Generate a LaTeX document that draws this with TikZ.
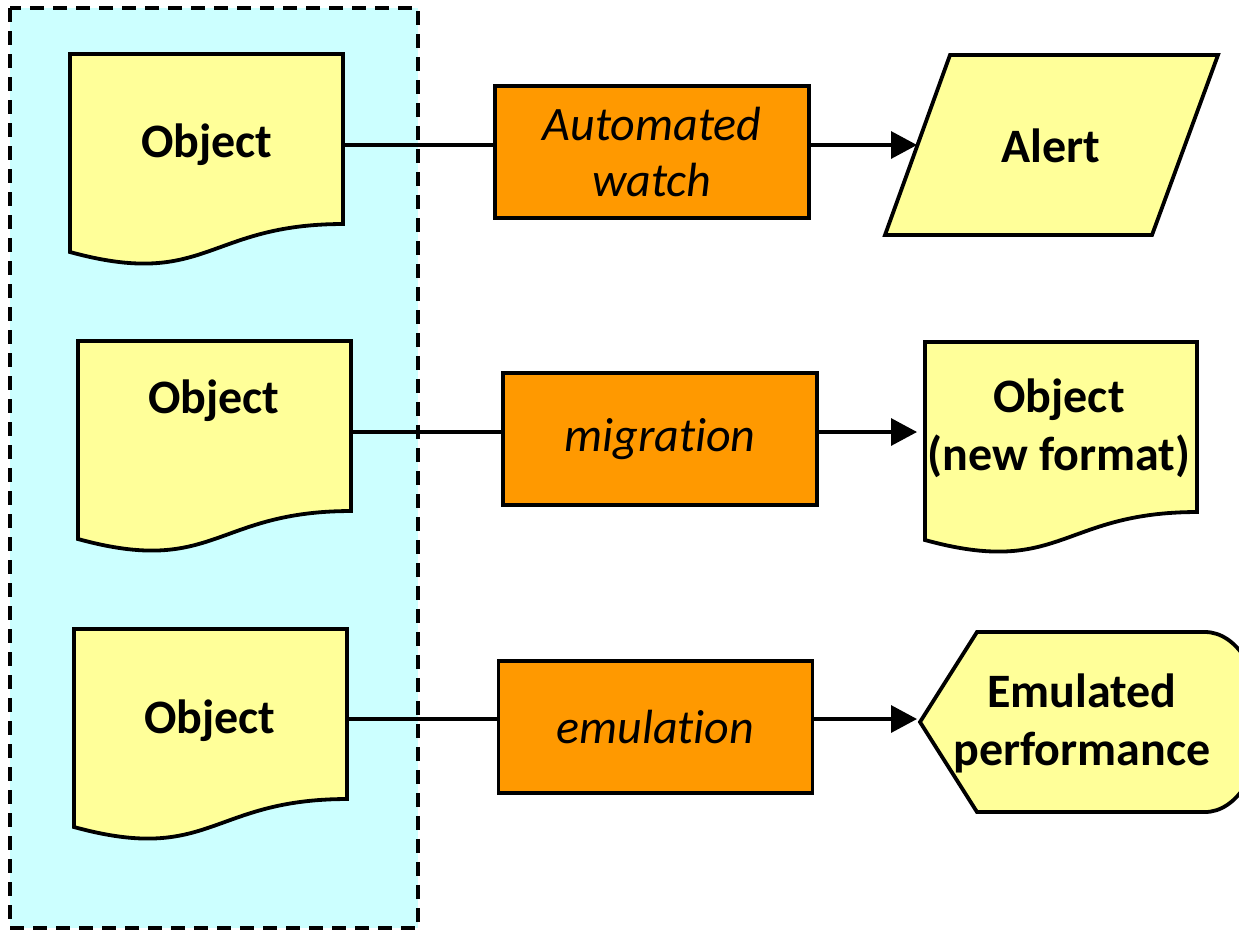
\documentclass[tikz,border=0pt]{standalone}
\usepackage{fontspec}
\setmainfont{Carlito}[Ligatures=NoCommon]
\usetikzlibrary{arrows.meta,calc}

\definecolor{docyellow}{HTML}{FFFF99}
\definecolor{poolcyan}{HTML}{CCFFFF}
\definecolor{actorange}{HTML}{FF9900}

\tikzset{
  outline/.style={draw=black, line width=3.8pt, line join=miter},
  docfill/.style={outline, fill=docyellow},
  actbox/.style={outline, fill=actorange, minimum width=314pt, minimum height=132pt,
    inner sep=0pt, font=\fontsize{48}{57}\selectfont\itshape, align=center},
  tag/.style={font=\fontsize{48}{58}\selectfont\bfseries, align=center, inner sep=0pt},
  link/.style={line width=3.3pt},
  flow/.style={link, -{Triangle[length=26pt,width=27pt]}},
  pool/.style={draw=black, line width=3.5pt, dash pattern=on 14pt off 9pt},
}

% document symbol: top-left corner (#1,#2), width #3, height #4
\newcommand{\docsymbol}[4]{%
  \path[docfill] (#1,-#2) -- (#1+#3,-#2) -- (#1+#3,-#2-0.802*#4)
    .. controls (#1+0.5*#3,-#2-0.802*#4) and (#1+0.5*#3,-#2-1.1106*#4)
    .. (#1,-#2-0.934*#4) -- cycle;}

\begin{document}
\begin{tikzpicture}[x=1pt,y=1pt]
  \useasboundingbox (0,0) rectangle (1239,-930);
  \clip (0,0) rectangle (1239,-930);

  % repository area
  \fill[poolcyan] (10,-8) rectangle (418,-928);

  % connection points
  \coordinate (src1) at (343,-145);
  \coordinate (src2) at (351,-432);
  \coordinate (src3) at (347,-719);
  \coordinate (dst1) at (917,-145);
  \coordinate (dst2) at (917,-432);
  \coordinate (dst3) at (917,-719);

  % processes
  \node[actbox] (act1) at (652,-152) {Automated\\[-1pt]watch};
  \node[actbox] (act2) at (660,-439) {migration};
  \node[actbox] (act3) at (655.5,-727) {emulation};

  % connectors
  \draw[link] (src1) -- (src1 -| act1.west);
  \draw[link] (src2) -- (src2 -| act2.west);
  \draw[link] (src3) -- (src3 -| act3.west);
  \draw[flow] (act1.east |- dst1) -- (dst1);
  \draw[flow] (act2.east |- dst2) -- (dst2);
  \draw[flow] (act3.east |- dst3) -- (dst3);

  % dashed border of the repository
  \draw[pool] (10,-8) rectangle (418,-928);

  % stored objects
  \docsymbol{70}{54}{273}{212}
  \docsymbol{78}{341}{273}{212}
  \docsymbol{74}{629}{273}{212}
  \node[tag, anchor=base] (obj1) at (207,-157) {Object};
  \node[tag, anchor=base] (obj2) at (214,-413) {Object};
  \node[tag, anchor=base] (obj3) at (210,-733) {Object};

  % alert (parallelogram)
  \path[docfill] (950,-55) -- (1218,-55) -- (1152,-235) -- (885,-235) -- cycle;
  \node[tag, anchor=base] (alert) at (1051,-162) {Alert};

  % migrated object
  \docsymbol{925}{342}{272}{212}
  \node[tag, anchor=base] (newobj) at (1059,-470) {Object\\(new format)};

  % display of emulated performance
  \path[docfill] (920,-722) -- (977,-632) -- (1205,-632)
    arc[start angle=90, end angle=-90, x radius=57, y radius=90]
    -- (977,-812) -- cycle;
  \node[tag, anchor=base] (perf) at (1082,-765) {Emulated\\performance};
\end{tikzpicture}
\end{document}
